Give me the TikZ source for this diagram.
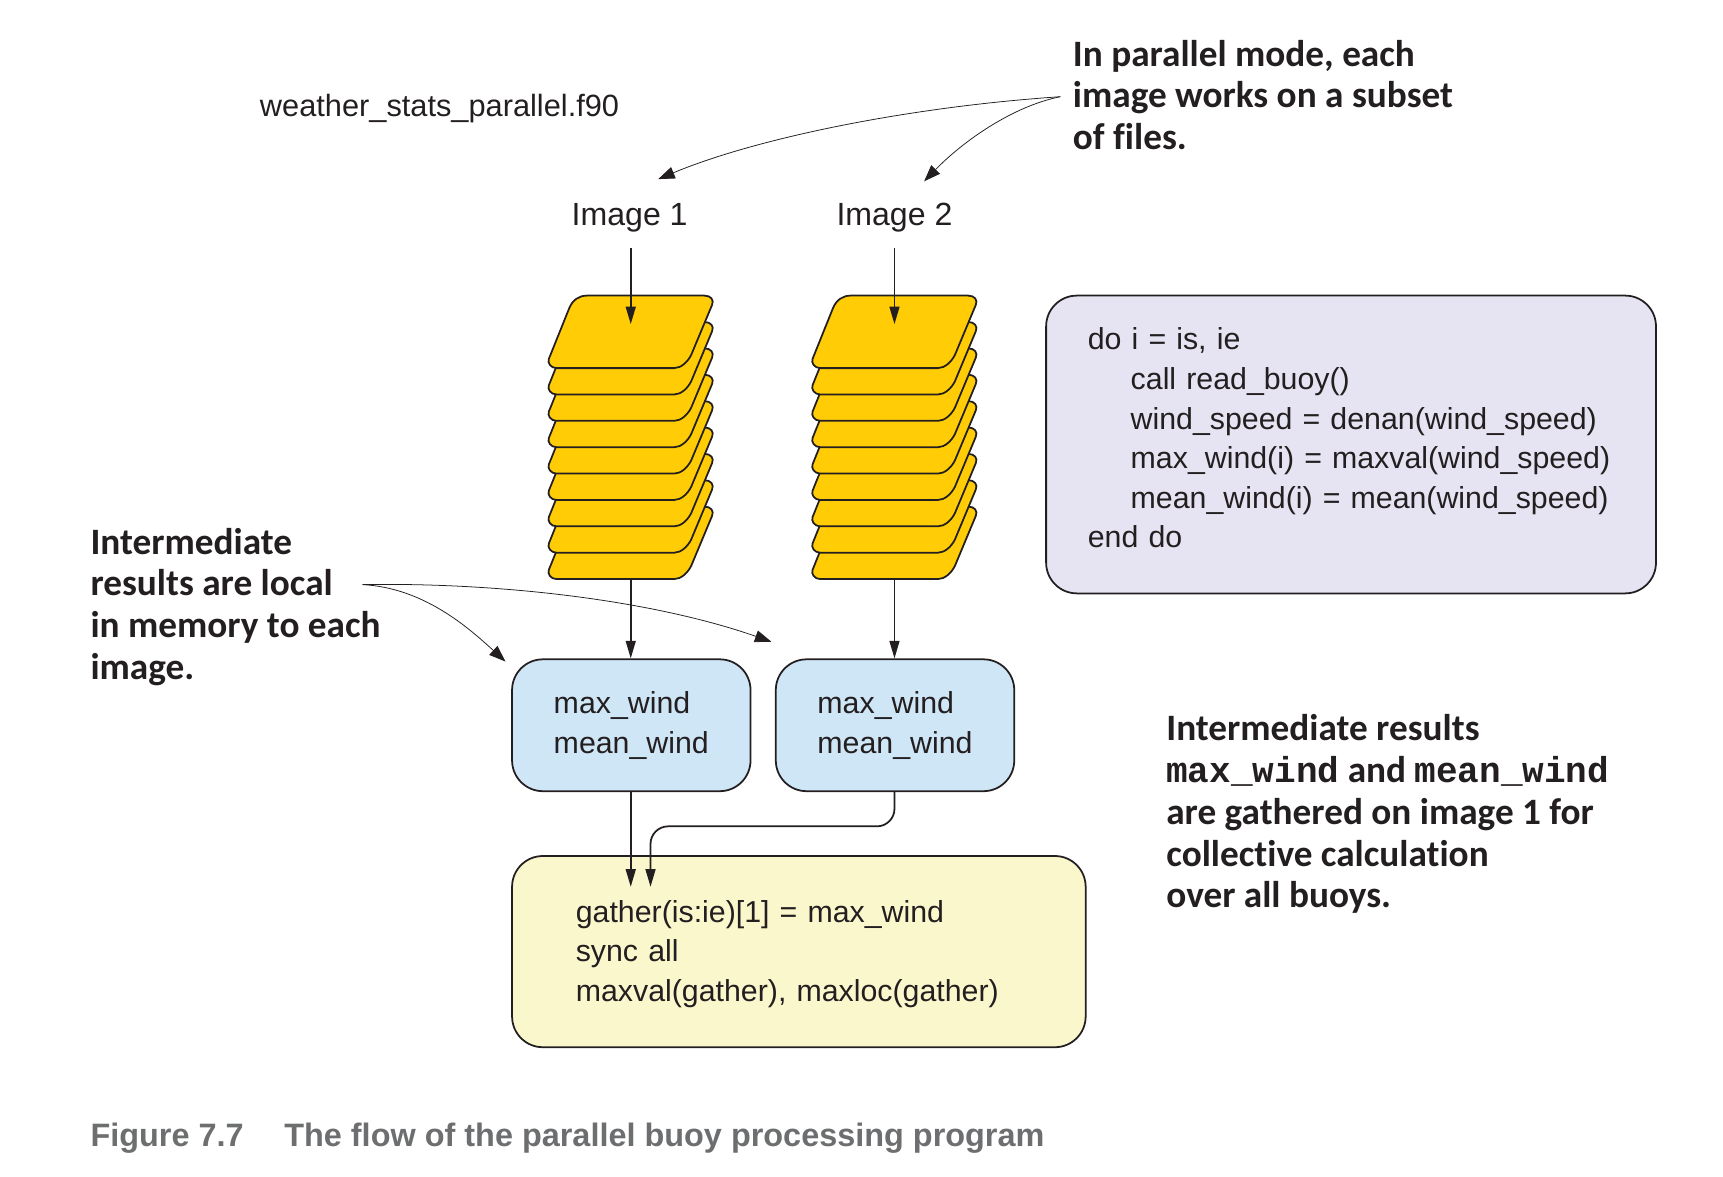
\documentclass[tikz,border=0pt]{standalone}
\usepackage{fontspec}
\setmainfont{Liberation Sans}
\newfontfamily\notefont[Ligatures=NoCommon]{Carlito}
\newfontfamily\notemono{Liberation Mono}
\usetikzlibrary{arrows.meta}
\definecolor{inkline}{HTML}{231F20}
\definecolor{filegold}{HTML}{FFCC05}
\definecolor{loopblue}{HTML}{E6E4F2}
\definecolor{memblue}{HTML}{CFE6F6}
\definecolor{gatheryel}{HTML}{FAF7CD}
\definecolor{captiongray}{HTML}{6D6E70}
\tikzset{
  flow/.style={draw=inkline,line width=0.8pt,-{Triangle[length=8pt,width=4.5pt]}},
  pointer/.style={draw=inkline,line width=0.35pt,-{Triangle[length=7.5pt,width=5.5pt]}},
  codebox/.style={draw=inkline,line width=0.8pt,rounded corners=14pt,align=left,inner xsep=0pt,inner ysep=0pt,
    font=\fontsize{13.8}{18}\selectfont,text=inkline},
  plain/.style={inner sep=0pt,text=inkline,font=\fontsize{14.6}{18}\selectfont},
  note/.style={inner sep=0pt,align=left,anchor=north west,text=inkline,
    font=\notefont\bfseries\fontsize{16.95}{19}\selectfont},
  stackbox/.style={minimum width=75pt,minimum height=129pt,inner sep=0pt},
  buoyfile/.pic={
    \draw[fill=filegold,draw=inkline,line width=0.8pt] (35,0) -- (142,0)
      .. controls (148,0) and (151,4) .. (149,8.5) -- (130,54)
      .. controls (127,60) and (121,66) .. (114.5,66) -- (7.6,66)
      .. controls (2,66) and (-1,61) .. (0.5,57.5) -- (19,11.5)
      .. controls (22,4) and (28,0) .. (35,0) -- cycle;
  }
}
\begin{document}
\begin{tikzpicture}[x=0.5pt,y=-0.5pt]
\useasboundingbox (0,0) rectangle (1568,1071);

% Labels
\node[plain,font=\fontsize{14}{18}\selectfont] (fname) at (400,99) {weather\_stats\_parallel.f90};
\node[plain,minimum height=27pt] (imgA) at (573,198) {Image 1};
\node[plain,minimum height=27pt] (imgB) at (814,198) {Image 2};

% Stacks of files
\foreach \k in {8,7,...,0}{
  \pgfmathsetmacro\ytop{269+\k*24}
  \pic at (499,\ytop) {buoyfile};
  \pic at (739,\ytop) {buoyfile};
}
\node[stackbox] (stackA) at (574,398) {};
\node[stackbox] (stackB) at (814,398) {};
\coordinate (readA) at (574,295);
\coordinate (readB) at (814,295);

% Boxes
\node[codebox,fill=loopblue,minimum width=277.5pt,minimum height=135.5pt,text width=239.5pt] (loopbox) at (1229.5,404.5)
  {do i = is, ie\\
   \hspace*{19.5pt}call read\_buoy()\\
   \hspace*{19.5pt}wind\_speed = denan(wind\_speed)\\
   \hspace*{19.5pt}max\_wind(i) = maxval(wind\_speed)\\
   \hspace*{19.5pt}mean\_wind(i) = mean(wind\_speed)\\
   end do\rule[-6pt]{0pt}{0pt}};
\node[codebox,fill=memblue,minimum width=108.5pt,minimum height=60pt] (memA) at (574.5,660)
  {max\_wind\\mean\_wind};
\node[codebox,fill=memblue,minimum width=108.5pt,minimum height=60pt] (memB) at (814.5,660)
  {max\_wind\\mean\_wind};
\node[codebox,fill=gatheryel,minimum width=261pt,minimum height=87pt,text width=203pt] (gatherbox) at (727,866)
  {\rule{0pt}{12.1pt}gather(is:ie)[1] = max\_wind\\
   sync all\\
   maxval(gather), maxloc(gather)};
\coordinate (gatherA) at (574,807);
\coordinate (gatherB) at (592,807);

% Flow
\draw[flow] (imgA.south -| stackA) -- (readA);
\draw[flow] (imgB.south) -- (readB);
\draw[flow] (stackA.south) -- (memA.north -| stackA);
\draw[flow] (stackB.south) -- (memB.north -| stackB);
\draw[flow] (memA.south -| stackA) -- (gatherA);
\draw[flow,rounded corners=8pt] (memB.south -| stackB) |- (592,752) -- (gatherB);

% Notes
\node[note] (modenote) at (976,36)
  {In parallel mode, each\\image works on a subset\\of files.};
\coordinate (modeout) at (965,88);
\coordinate (tipA) at (599,163);
\coordinate (tipB) at (841,165);
\draw[pointer] (modeout) .. controls (830,97) and (690,125) .. (tipA);
\draw[pointer] (modeout) .. controls (920,97) and (875,130) .. (tipB);

\node[note] (localnote) at (82,480)
  {Intermediate\\results are local\\in memory to each\\image.};
\coordinate (localout) at (330,532);
\coordinate (tipC) at (460,602);
\coordinate (tipD) at (702,584);
\draw[pointer] (localout) .. controls (385,535) and (425,570) .. (tipC);
\draw[pointer] (localout) .. controls (450,530) and (590,545) .. (tipD);

\node[note] (gathernote) at (1061,650)
  {Intermediate results\\
   {\notemono\fontsize{16.4}{19}\selectfont max\_wind} and {\notemono\fontsize{16.4}{19}\selectfont mean\_wind}\\
   are gathered on image 1 for\\
   collective calculation\\
   over all buoys.};

% Caption
\node[inner sep=0pt,anchor=west,text=captiongray,font=\bfseries\fontsize{14.75}{18}\selectfont] (caption) at (82,1036)
  {Figure 7.7\hspace{18.5pt}The flow of the parallel buoy processing program};
\end{tikzpicture}
\end{document}
